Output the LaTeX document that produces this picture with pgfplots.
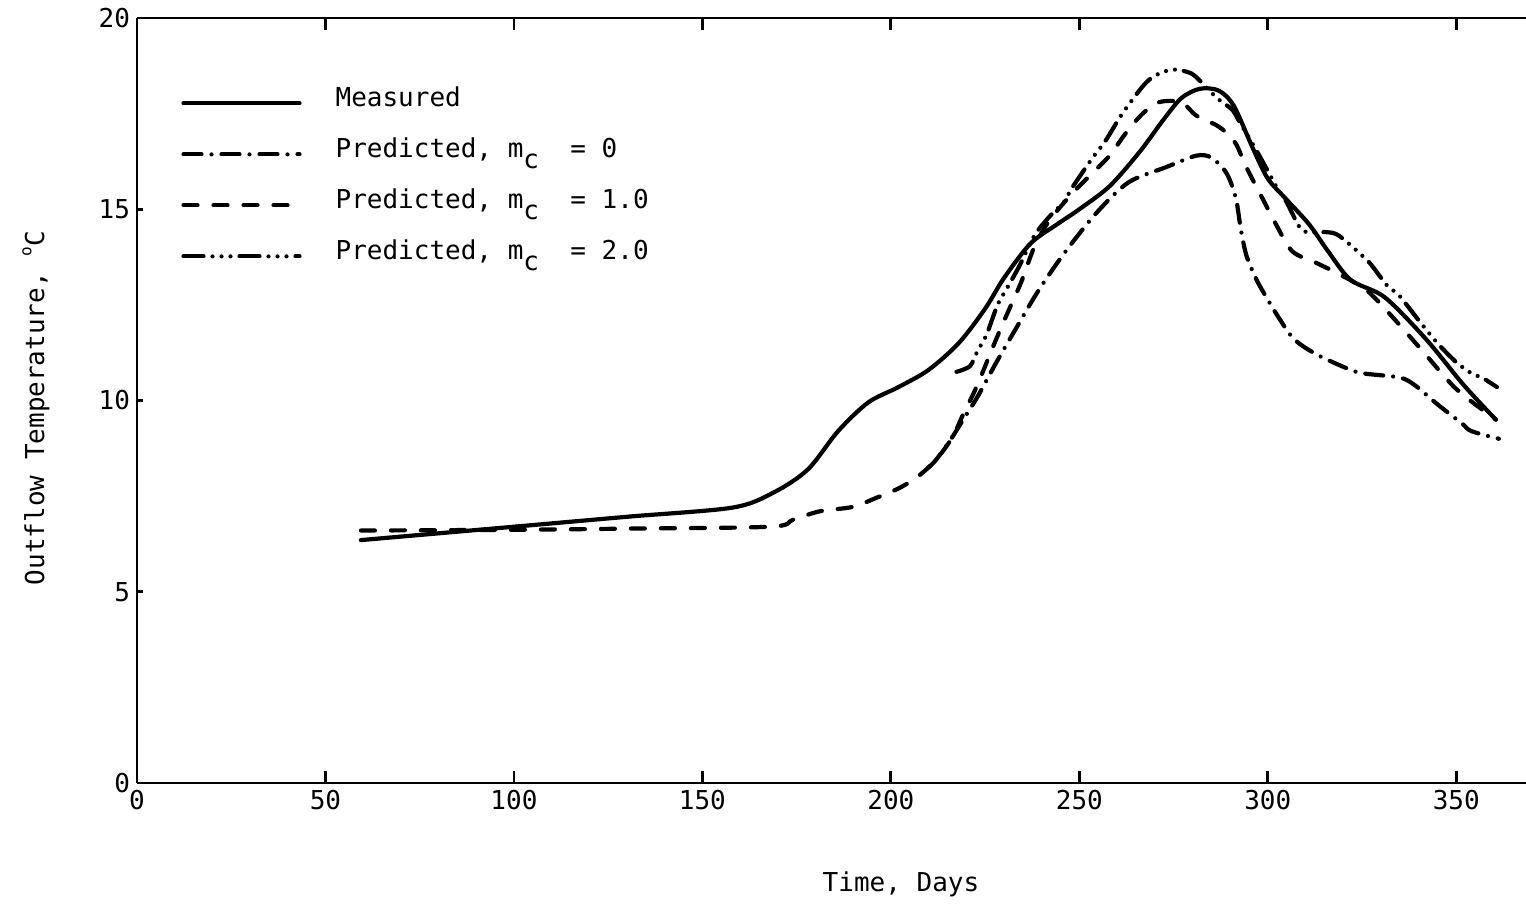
\documentclass[border=0pt]{standalone}
\usepackage{fontspec}
\setmainfont{DejaVu Sans Mono}
\usepackage{pgfplots}
\pgfplotsset{compat=1.18}

\begin{document}
\begin{tikzpicture}
\begin{axis}[
  name=ax,
  scale only axis,
  width=694.5pt, height=382.5pt,
  xmin=0, xmax=368.5, ymin=0, ymax=20,
  axis x line*=box, axis y line*=left,
  axis line style={-, line width=1.4pt},
  xtick={0,50,...,350}, ytick={0,5,...,20},
  tick style={line width=1.4pt, black},
  major tick length=6pt,
  ytick style={/pgfplots/major tick length=3pt},
  /pgf/number format/assume math mode=true,
  font=\fontsize{13}{15.6}\selectfont,
  xlabel={Time, Days},
  ylabel={Outflow Temperature, \raisebox{0.9ex}{\footnotesize o}C},
  xlabel style={at={(axis description cs:0.55,-0.133)}, anchor=center},
  ylabel style={at={(axis description cs:-0.0727,0.49)}, anchor=center},
  legend style={draw=none, fill=none, at={(rel axis cs:0,1)}, anchor=north west,
    xshift=19pt, yshift=-31pt, row sep=6.5pt, column sep=15pt,
    nodes={text height=9pt, text depth=6pt}},
  legend cell align=left,
  legend image code/.code={\draw[#1] (0pt,0pt) -- (58pt,0pt);},
  every axis plot/.append style={line width=2.1pt, black, line cap=round},
]
% measured
\addplot[smooth, tension=0.5] coordinates {
(59.4,6.35)(100,6.7)(130,6.96)(158,7.2)(169,7.6)(178,8.2)(186,9.2)(194,9.95)
(202,10.35)(210,10.8)(218,11.5)(225,12.4)(230,13.2)(237,14.1)(244,14.6)(250,15.0)
(258,15.6)(266,16.5)(272,17.3)(277,17.9)(282,18.15)(287,18.1)(291,17.7)(296,16.6)
(300,15.8)(305,15.25)(311,14.6)(316,13.9)(322,13.15)(331,12.7)(342,11.6)(352,10.4)
(360.5,9.5)};
% m_c = 0
\addplot[smooth, tension=0.5, dash pattern=on 9pt off 5pt on 0pt off 5pt] coordinates {
(210,8.25)(212,8.45)(216,9.0)(219.5,9.55)(223,10.1)(228,11.0)(233,11.85)(239,12.85)
(246,13.85)(254.5,14.9)(263,15.7)(273,16.1)(281,16.4)(285,16.35)(289,15.95)(291.5,15.3)
(292.8,14.5)(294.3,13.8)(296.8,13.2)(299,12.8)(303,12.15)(307,11.6)(313,11.2)(322,10.8)
(326,10.7)(335,10.6)(339,10.4)(345,9.9)(351.5,9.4)(354,9.2)(361.3,9.0)};
% m_c = 1.0
\addplot[smooth, tension=0.5, dash pattern=on 7pt off 8pt] coordinates {
(59.4,6.6)(100,6.62)(130,6.65)(168,6.7)(174,6.88)(181,7.1)(190,7.22)(196,7.45)
(202,7.7)(207,8.0)(212,8.45)(216.4,9.05)(219,9.6)(222.7,10.35)(227.5,11.5)(231,12.3)
(234.6,13.1)(238,14.0)(242,14.7)(248,15.4)(253,15.9)(258,16.4)(262.4,17.0)(266.8,17.5)
(271.2,17.8)(277,17.8)(281,17.45)(286.3,17.2)(289,17.0)(291.6,16.7)(294.3,16.1)
(298.5,15.3)(302.2,14.6)(306.5,13.9)(312.8,13.6)(319,13.3)(326,12.9)(332,12.3)
(341,11.3)(350,10.3)(360.5,9.5)};
% m_c = 2.0
\addplot[smooth, tension=0.5, dash pattern=on 10pt off 4.5pt on 0pt off 4.5pt on 0pt off 4.5pt on 0pt off 4.5pt] coordinates {
(217.4,10.75)(221,10.9)(223,11.3)(225.3,11.7)(228.3,12.5)(230.6,12.9)(234,13.5)
(238,14.3)(242,14.8)(246,15.2)(248,15.55)(253.2,16.3)(257,16.8)(261.4,17.5)(266.7,18.2)
(269.4,18.45)(272.5,18.6)(275.7,18.65)(279.7,18.55)(282.6,18.3)(286.6,17.9)(290.6,17.6)
(292.4,17.3)(296.9,16.55)(300,16.0)(302.2,15.6)(304.9,15.2)(308.3,14.55)(310.5,14.4)
(315.7,14.4)(319,14.3)(326,13.7)(328.2,13.45)(331.7,13.0)(334.8,12.75)(339.6,12.15)
(345,11.5)(350,11.0)(354.2,10.7)(356.8,10.6)(360.8,10.35)};
\legend{Measured,
  {Predicted, m\raisebox{-0.8ex}{c}~~= 0},
  {Predicted, m\raisebox{-0.8ex}{c}~~= 1.0},
  {Predicted, m\raisebox{-0.8ex}{c}~~= 2.0}}
\end{axis}
\pgfresetboundingbox
\path ([xshift=-68.5pt,yshift=-60.5pt]ax.south west) rectangle ([yshift=9pt]ax.north east);
\end{tikzpicture}
\end{document}
